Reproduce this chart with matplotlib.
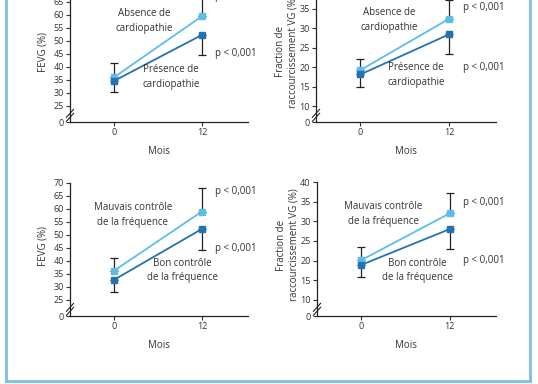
import matplotlib
matplotlib.use('Agg')
import matplotlib.pyplot as plt
from matplotlib.lines import Line2D

plt.rcParams['font.family'] = ['Open Sans', 'DejaVu Sans']

months = [0, 12]

# FEVG (%) panels
fevg_absence = [36, 59.5]
fevg_presence = [34.6, 52.3]
fevg_absence_err_up = [5.7, 8.5]
fevg_presence_err_down = [4.3, 7.8]

fevg_mauvais = [36.2, 59]
fevg_bon = [32.7, 52.3]
fevg_mauvais_err_up = [5.1, 9]
fevg_bon_err_down = [4.7, 8.1]

# Fraction de raccourcissement VG (%) panels
frvg_absence = [19.2, 32.4]
frvg_presence = [18.1, 28.4]
frvg_absence_err_up = [2.9, 4.8]
frvg_presence_err_down = [3.2, 5.1]

frvg_mauvais = [20.1, 32]
frvg_bon = [18.9, 28]
frvg_mauvais_err_up = [3.4, 5.1]
frvg_bon_err_down = [3.2, 5.1]

fevg_ticks = [25, 30, 35, 40, 45, 50, 55, 60, 65, 70]
frvg_ticks = [10, 15, 20, 25, 30, 35, 40]

LIGHT = '#5cbde9'
DARK = '#2472ae'
TXT = '#333333'
W, H = 538, 384

fig = plt.figure(figsize=(W / 100, H / 100), dpi=100)


def px_axes(left, right, bottom, top):
    return fig.add_axes([left / W, 1 - bottom / H, (right - left) / W, (bottom - top) / H])


def panel(ax, hi, lo, hi_err, lo_err, ticks, zero_pos, ymax, ylabel, lab_hi, lab_lo,
          pos_hi, pos_lo, p_hi, p_lo, label_x):
    ax.errorbar(months, hi, yerr=[[0, 0], hi_err], fmt='none', ecolor='#222222',
                elinewidth=0.9, capsize=3, capthick=0.9, zorder=2)
    ax.errorbar(months, lo, yerr=[lo_err, [0, 0]], fmt='none', ecolor='#222222',
                elinewidth=0.9, capsize=3, capthick=0.9, zorder=2)
    ax.plot(months, hi, '-s', color=LIGHT, lw=1.3, ms=4.5, zorder=3)
    ax.plot(months, lo, '-s', color=DARK, lw=1.3, ms=4.5, zorder=3)
    ax.set_xlim(-6, 18.3)
    ax.set_ylim(zero_pos, ymax)
    ax.set_xticks(months)
    ax.set_xticklabels(['0', '12'])
    ax.set_yticks([zero_pos] + ticks)
    ax.set_yticklabels(['0'] + [str(t) for t in ticks])
    for s in ['top', 'right']:
        ax.spines[s].set_visible(False)
    for s in ['left', 'bottom']:
        ax.spines[s].set_color('#222222')
        ax.spines[s].set_linewidth(0.9)
    ax.tick_params(labelsize=6.5, colors=TXT, length=3, width=0.8, pad=1.5)
    ax.set_xlabel('Mois', fontsize=7, color=TXT, labelpad=6)
    ax.set_ylabel(ylabel, fontsize=7, color=TXT, linespacing=1.2)
    ax.yaxis.set_label_coords(label_x, 0.53)
    ax.text(pos_hi[0], pos_hi[1], lab_hi, ha='center', va='center', fontsize=7,
            color=TXT, linespacing=1.45)
    ax.text(pos_lo[0], pos_lo[1], lab_lo, ha='center', va='center', fontsize=7,
            color=TXT, linespacing=1.45)
    ax.text(13.8, p_hi, 'p < 0,001', ha='left', va='center', fontsize=7, color=TXT)
    ax.text(13.8, p_lo, 'p < 0,001', ha='left', va='center', fontsize=7, color=TXT)
    # axis break marks
    for dy in (0.035, 0.065):
        ax.add_line(Line2D([-0.02, 0.02], [dy - 0.03, dy + 0.03], transform=ax.transAxes,
                           color='#222222', lw=0.8, clip_on=False))


fevg_zero = 18.8
frvg_zero = 5.9
frac_label = 'Fraction de\nraccourcissement VG (%)'

ax1 = px_axes(70, 248, 122, -11)
panel(ax1, fevg_absence, fevg_presence, fevg_absence_err_up, fevg_presence_err_down,
      fevg_ticks, fevg_zero, 70, 'FEVG (%)', 'Absence de\ncardiopathie', 'Présence de\ncardiopathie',
      (4.1, 57.6), (7.8, 36.1), 67, 45, -0.118)

ax2 = px_axes(316, 496, 122, -11)
panel(ax2, frvg_absence, frvg_presence, frvg_absence_err_up, frvg_presence_err_down,
      frvg_ticks, frvg_zero, 40, frac_label, 'Absence de\ncardiopathie', 'Présence de\ncardiopathie',
      (3.9, 32.1), (7.5, 17.9), 35.2, 20, -0.095)

ax3 = px_axes(70, 248, 316, 183)
panel(ax3, fevg_mauvais, fevg_bon, fevg_mauvais_err_up, fevg_bon_err_down,
      fevg_ticks, fevg_zero, 70, 'FEVG (%)', 'Mauvais contrôle\nde la fréquence',
      'Bon contrôle\nde la fréquence', (2.6, 57.7), (9.4, 36.3), 66.7, 44.6, -0.118)

ax4 = px_axes(317, 496, 316, 182)
panel(ax4, frvg_mauvais, frvg_bon, frvg_mauvais_err_up, frvg_bon_err_down,
      frvg_ticks, frvg_zero, 40, frac_label, 'Mauvais contrôle\nde la fréquence',
      'Bon contrôle\nde la fréquence', (3.0, 31.9), (7.6, 17.5), 34.7, 20, -0.095)

# light blue frame
frame = '#7dbfe2'
fig.add_artist(Line2D([6 / W, 6 / W], [1 - 381 / H, 1.01], color=frame, lw=2, transform=fig.transFigure))
fig.add_artist(Line2D([530 / W, 530 / W], [1 - 381 / H, 1.01], color=frame, lw=2, transform=fig.transFigure))
fig.add_artist(Line2D([6 / W, 530 / W], [1 - 381 / H, 1 - 381 / H], color=frame, lw=2, transform=fig.transFigure))

fig.savefig('out.png', dpi=100)
